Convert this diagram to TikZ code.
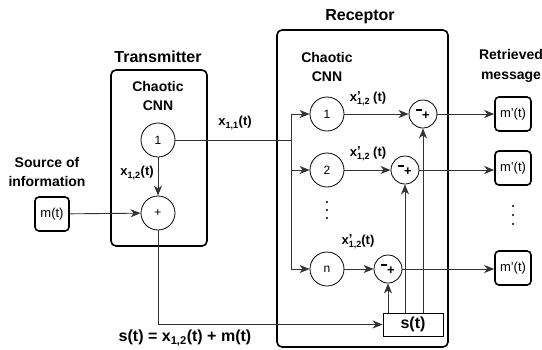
\documentclass[tikz,border=0pt]{standalone}
\usepackage{fontspec}
\setmainfont{Liberation Sans}
\usetikzlibrary{arrows.meta}
\newcommand{\xsub}[1]{x\textsubscript{#1}}
\newcommand{\xpsub}[1]{x\raisebox{-3.2pt}{\fontsize{9}{6}\selectfont\shortstack[l]{\fontsize{13}{13}\selectfont'\\[-5.5pt]#1}}}
\newcommand{\minplus}{\raisebox{2.5pt}{\rule{5.5pt}{2.2pt}}\kern0.5pt\raisebox{-6pt}{+}}
\begin{document}
\begin{tikzpicture}[x=1pt,y=-1pt,
  line/.style={draw=black!80, line width=0.9pt},
  arr/.style={line, -{Stealth[length=10pt,width=8pt,inset=3pt]}},
  bigbox/.style={draw, line width=1.6pt, rounded corners=5pt, inner sep=0pt},
  cell/.style={circle, draw, line width=0.8pt, minimum size=34pt, inner sep=0pt, font=\fontsize{12}{12}\selectfont},
  subc/.style={circle, draw, line width=0.8pt, minimum size=28pt, inner sep=0pt, font=\bfseries\fontsize{13}{13}\selectfont},
  msg/.style={draw, line width=1.6pt, rounded corners=4pt, minimum width=34pt, minimum height=34pt, inner sep=0pt, font=\fontsize{13}{13}\selectfont},
  sbox/.style={draw, line width=0.8pt, minimum width=60pt, minimum height=23pt, inner sep=0pt, font=\bfseries\fontsize{16}{16}\selectfont},
  title/.style={font=\bfseries\fontsize{16}{16}\selectfont},
  head/.style={font=\bfseries\fontsize{14}{19.5}\selectfont, align=center},
  lab/.style={font=\bfseries\fontsize{13}{13}\selectfont, inner sep=0pt},
  dot/.style={circle, fill=black, inner sep=0pt, minimum size=2.2pt}
]
\useasboundingbox (0,0) rectangle (542,349);
% boxes
\node[bigbox, minimum width=96pt, minimum height=176pt] (tx) at (159,158) {};
\node[bigbox, minimum width=171pt, minimum height=317pt] (rx) at (362.5,188.5) {};
% titles
\node[title] (txt) at (158,57) {Transmitter};
\node[title] (rxt) at (360,17) {Receptor};
\node[head] (tcnn) at (158,96) {Chaotic\\CNN};
\node[head] (rcnn) at (327,67) {Chaotic\\CNN};
\node[head] (src) at (47,172) {Source of\\information};
\node[head] (ret) at (511,66) {Retrieved\\message};
% transmitter
\node[cell] (t1) at (158,140) {1};
\node[cell] (tp) at (158,213) {+};
\node[msg] (m) at (52,214) {m(t)};
\draw[arr] (t1) -- (tp);
\draw[arr] (m) -- (tp);
\node[lab] (l12) at (137,173) {\xsub{1,2}(t)};
\node[lab] (l11) at (235,123) {\xsub{1,1}(t)};
% receptor
\coordinate (bt) at (291,114);
\coordinate (bm) at (291,140);
\coordinate (b2) at (291,170);
\coordinate (bb) at (291,269);
\node[cell] (r1) at (327,114) {1};
\node[cell] (r2) at (327,170) {2};
\node[cell] (rn) at (327,269) {n};
\draw[line] (t1) -- (bm);
\draw[line] (bt) -- (bb);
\draw[arr] (bt) -- (r1);
\draw[arr] (b2) -- (r2);
\draw[arr] (bb) -- (rn);
\node[subc] (d1) at (423,114) {\minplus};
\node[subc] (d2) at (405,170) {\minplus};
\node[subc] (dn) at (388,269) {\minplus};
\draw[arr] (r1) -- (d1);
\draw[arr] (r2) -- (d2);
\draw[arr] (rn) -- (dn);
\node[lab] (p1) at (368,99) {\xpsub{1,2} (t)};
\node[lab] (p2) at (368,154) {\xpsub{1,2} (t)};
\node[lab] (pn) at (358,242) {\xpsub{1,2}(t)};
\node[sbox] (s) at (413,324.5) {s(t)};
\draw[arr] (tp) |- (s);
\draw[arr] (s.north -| dn) -- (dn);
\draw[arr] (s.north -| d2) -- (d2);
\draw[arr] (s.north -| d1) -- (d1);
% outputs
\node[msg, minimum width=36pt] (o1) at (513,114) {m'(t)};
\node[msg, minimum width=36pt] (o2) at (513,168) {m'(t)};
\node[msg, minimum width=36pt] (on) at (513,268) {m'(t)};
\draw[arr] (d1) -- (o1.west |- d1);
\draw[arr] (d2) -- (o2.west |- d2);
\draw[arr] (dn) -- (on.west |- dn);
% dots
\node[dot] (v1) at (327,202) {};
\node[dot] (v2) at (327,210) {};
\node[dot] (v3) at (327,218) {};
\node[dot] (w1) at (513,206) {};
\node[dot] (w2) at (513,215) {};
\node[dot] (w3) at (513,224) {};
% equation
\node[font=\bfseries\fontsize{16}{16}\selectfont] (eq) at (185,338) {s(t) = \xsub{1,2}(t) + m(t)};
\end{tikzpicture}
\end{document}
